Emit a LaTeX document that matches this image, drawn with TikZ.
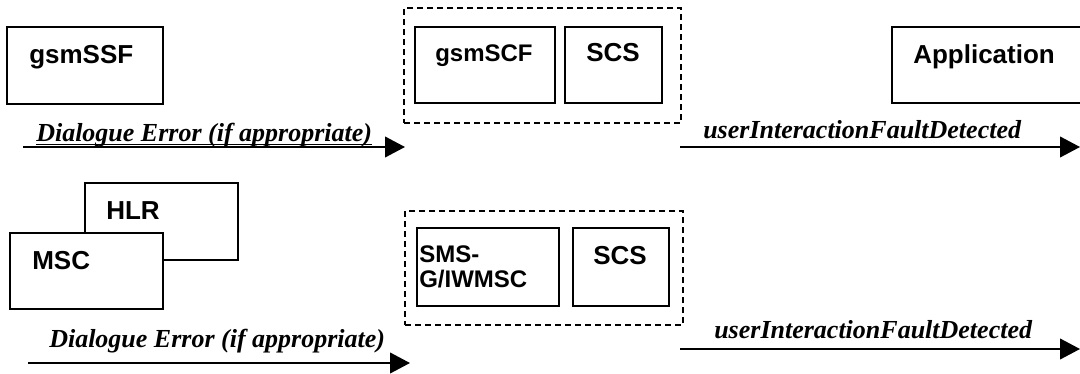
\documentclass[tikz,border=0pt]{standalone}
\usepackage{fontspec}
\setmainfont{Liberation Serif}
\setsansfont{Liberation Sans}
\usetikzlibrary{arrows.meta,fit}
\begin{document}
\begin{tikzpicture}[x=0.75pt,y=-0.75pt,
  box/.style={draw,line width=1.3pt,inner sep=0pt,fill=white},
  grp/.style={draw,line width=1.3pt,inner sep=0pt,dash pattern=on 4.5pt off 3pt},
  lbl/.style={inner sep=0pt,anchor=base west,font=\sffamily\bfseries\fontsize{19.5}{23}\selectfont},
  slbl/.style={inner sep=0pt,anchor=base west,font=\sffamily\bfseries\fontsize{18}{21}\selectfont},
  msg/.style={inner sep=0pt,anchor=base west,font=\rmfamily\bfseries\itshape\fontsize{19.5}{23}\selectfont},
  flow/.style={line width=1.5pt,-{Triangle[length=15pt,width=15.5pt]}}]
\useasboundingbox[fill=white] (0,0) rectangle (1080,374);
% top row
\node[box,fit={(7,27) (163,104)}] (ssf) {};
\node[lbl] (ssft) at (29,64) {gsmSSF};
\node[grp,fit={(404,8) (681,123)}] (grp1) {};
\node[box,fit={(415,27) (555,103)}] (scf) {};
\node[slbl] (scft) at (435,62) {gsmSCF};
\node[box,fit={(565,27) (662,103)}] (scs1) {};
\node[lbl] (scs1t) at (586,62) {SCS};
\node[box,fit={(892,27) (1084,103)}] (app) {};
\node[lbl] (appt) at (913,64) {Application};
\coordinate (a1s) at (23,147);
\coordinate (a1e) at (405,147);
\draw[flow] (a1s) -- (a1e);
\node[msg] (m1) at (36,142) {Dialogue Error (if appropriate)};
\draw[line width=1pt] ([yshift=-1.9pt]m1.base west) -- ([yshift=-1.9pt]m1.base east);
\coordinate (a2s) at (680,147);
\coordinate (a2e) at (1080,147);
\draw[flow] (a2s) -- (a2e);
\node[msg] (m2) at (703,138) {userInteractionFaultDetected};
% bottom row
\node[box,fit={(85,183) (238,260)}] (hlr) {};
\node[lbl] (hlrt) at (106,219) {HLR};
\node[box,fit={(10,233) (163,309)}] (msc) {};
\node[lbl] (msct) at (32,269) {MSC};
\node[grp,fit={(405,211) (683,325)}] (grp2) {};
\node[box,fit={(417,228) (559,306)}] (sms) {};
\node[slbl] (smst1) at (419,262) {SMS-};
\node[slbl] (smst2) at (419,287) {G/IWMSC};
\node[box,fit={(573,228) (669,306)}] (scs2) {};
\node[lbl] (scs2t) at (593,264) {SCS};
\coordinate (a3s) at (28,363);
\coordinate (a3e) at (410,363);
\draw[flow] (a3s) -- (a3e);
\node[msg] (m3) at (49,347) {Dialogue Error (if appropriate)};
\coordinate (a4s) at (680,349);
\coordinate (a4e) at (1080,349);
\draw[flow] (a4s) -- (a4e);
\node[msg] (m4) at (714,338) {userInteractionFaultDetected};
\end{tikzpicture}
\end{document}
